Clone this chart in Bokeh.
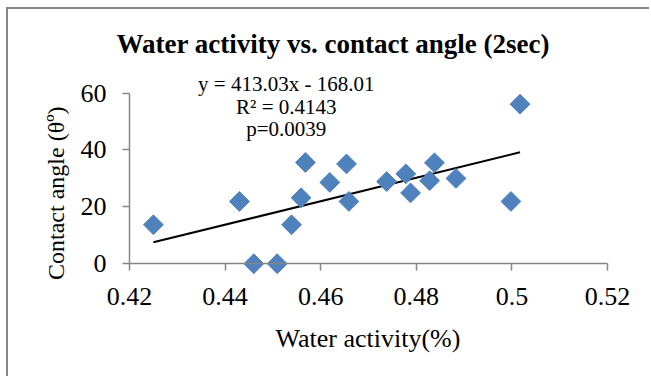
import numpy as np
from bokeh.plotting import figure
from bokeh.models import Range1d, Label, Title, FixedTicker, ColumnDataSource
from bokeh.embed import file_html
from bokeh.resources import INLINE

# ---- data ----
water_activity = [0.4250, 0.4430, 0.4460, 0.4509, 0.4539, 0.4559, 0.4568, 0.4619, 0.4654,
                  0.4659, 0.4738, 0.4778, 0.4788, 0.4828, 0.4838, 0.4883, 0.4998, 0.5017]
contact_angle = [13.7, 21.9, 0.0, 0.0, 13.7, 23.2, 35.6, 28.6, 35.1,
                 21.9, 28.9, 31.6, 24.9, 29.2, 35.5, 30.0, 21.9, 56.1]
x_ticks = [0.42, 0.44, 0.46, 0.48, 0.50, 0.52]
x_tick_labels = ["0.42", "0.44", "0.46", "0.48", "0.5", "0.52"]
y_ticks = [0, 20, 40, 60]
slope = 413.03
intercept = -168.01
equation_lines = ["y = 413.03x - 168.01", "R\u00b2 = 0.4143", "p=0.0039"]
title_text = "Water activity vs. contact angle (2sec)"
x_label = "Water activity(%)"
y_label = "Contact angle (\u03b8\u00ba)"

FONT = "Liberation Serif"
BLUE = "#4F81BD"
GREY = "#868686"

p = figure(width=643, height=369, output_backend="svg", toolbar_location=None,
           x_range=Range1d(0.394686, 0.529205), y_range=Range1d(-17.5, 68.3),
           min_border_left=0, min_border_right=0, min_border_top=60, min_border_bottom=65,
           background_fill_color="white", border_fill_color="white")
p.margin = (7, 0, 0, 6)
p.styles = {"border-left": "2px solid #878787", "border-top": "2px solid #878787"}
p.outline_line_color = None
p.xgrid.visible = False
p.ygrid.visible = False

# title
p.title = Title(text=title_text, align="left", offset=108, standoff=22,
                text_font=FONT, text_font_size="27px", text_font_style="bold",
                text_color="black")

# x-axis title as a bottom title (not clipped by the frame)
p.add_layout(Title(text=x_label, align="left", offset=267, standoff=16,
                   text_font=FONT, text_font_size="26px", text_font_style="normal",
                   text_color="black"), "below")

# trendline
x_fit = np.array([min(water_activity), max(water_activity)])
y_fit = slope * x_fit + intercept
p.line(x_fit, y_fit, line_color="black", line_width=2)

# points
src = ColumnDataSource(dict(x=water_activity, y=contact_angle))
p.scatter("x", "y", source=src, marker="square", size=14, angle=np.pi / 4,
          fill_color=BLUE, line_color=BLUE)

# axes
xa = p.xaxis[0]
xa.fixed_location = 0
xa.bounds = (0.42, 0.52)
xa.ticker = FixedTicker(ticks=x_ticks)
xa.major_label_overrides = {tk: lb for tk, lb in zip(x_ticks, x_tick_labels)}

ya = p.yaxis[0]
ya.fixed_location = 0.42
ya.bounds = (0, 60)
ya.ticker = FixedTicker(ticks=y_ticks)

for ax in (xa, ya):
    ax.axis_line_color = GREY
    ax.axis_line_width = 1.5
    ax.major_tick_line_color = GREY
    ax.major_tick_line_width = 1.5
    ax.minor_tick_line_color = None
    ax.major_tick_in = 0
    ax.major_tick_out = 7
    ax.major_label_text_font = FONT
    ax.major_label_text_font_size = "26px"
    ax.major_label_text_color = "black"
xa.major_label_standoff = 17
ya.major_label_standoff = 16

# y-axis title as a rotated label (centred on the frame like the reference)
p.add_layout(Label(x=0.42, y=24.8, x_offset=-74, angle=np.pi / 2, text=y_label,
                   text_align="center", text_baseline="alphabetic",
                   text_font=FONT, text_font_size="24px", text_color="black"))

# equation annotations
for i, line in enumerate(equation_lines):
    p.add_layout(Label(x=0.4528, y=61, y_offset=6 - 22.5 * i, text=line,
                       text_align="center", text_baseline="alphabetic",
                       text_font=FONT, text_font_size="21px", text_color="black"))

open("out.html", "w").write(file_html(p, INLINE))
